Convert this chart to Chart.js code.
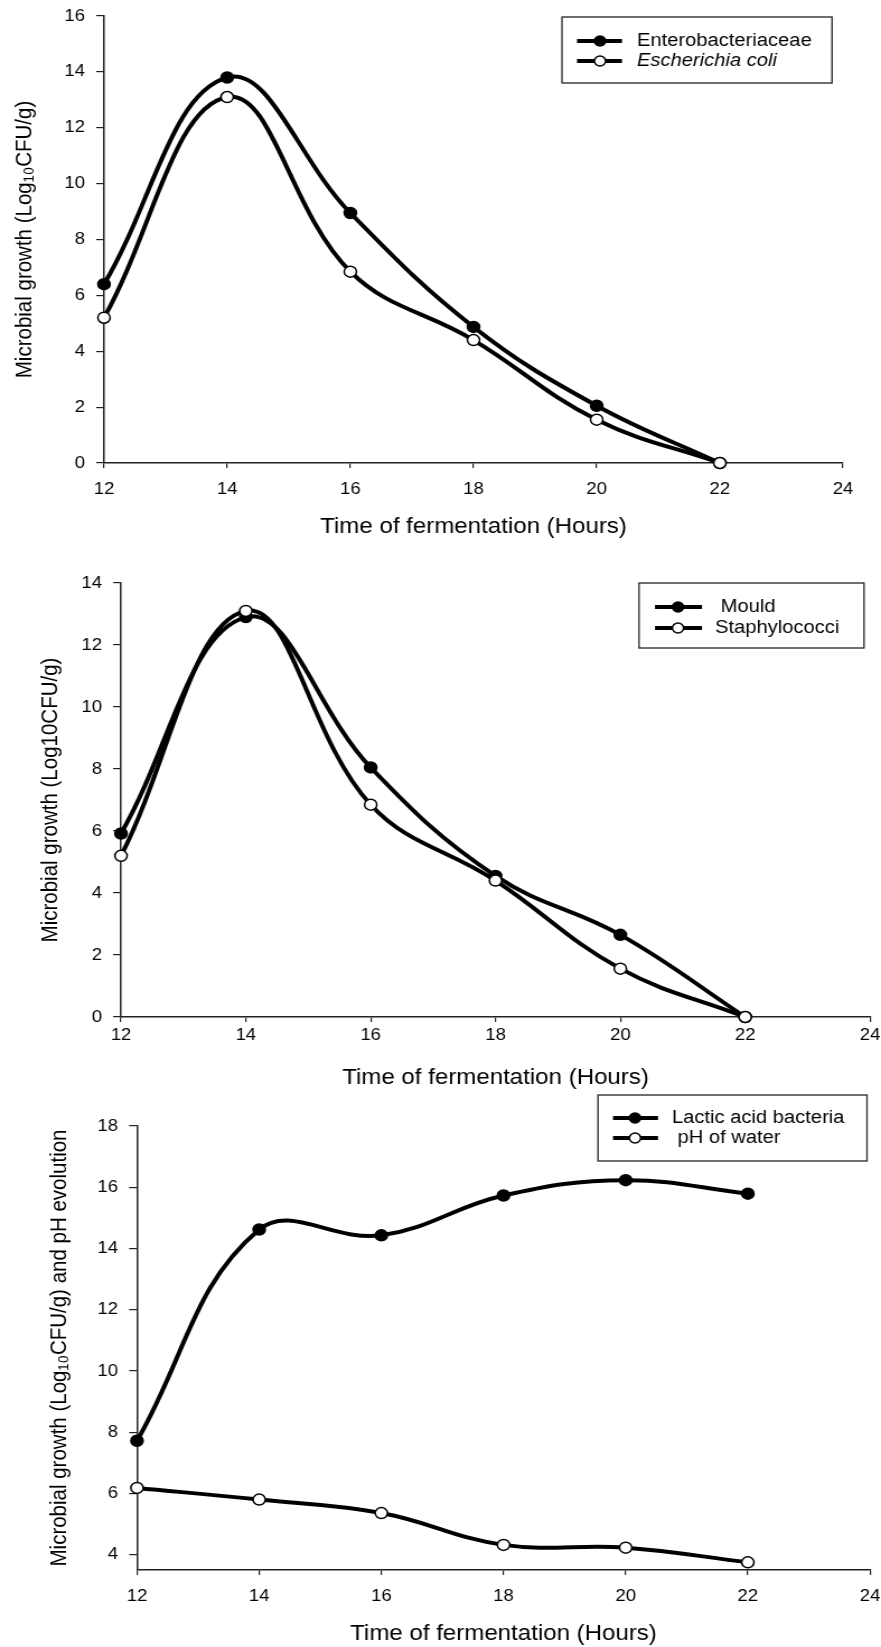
<!DOCTYPE html>
<html>
<head>
<meta charset="utf-8">
<script src="https://cdn.jsdelivr.net/npm/chart.js@4.4.1/dist/chart.umd.min.js"></script>
<style>
  body { margin: 0; background: #fff; width: 881px; height: 1647px; position: relative; overflow: hidden; }
  canvas { position: absolute; left: 0; }
</style>
</head>
<body>
<canvas id="c1"></canvas>
<canvas id="c2"></canvas>
<canvas id="c3"></canvas>
<script>
// data
const hours = [12, 14, 16, 18, 20, 22];
const enterobacteriaceae = [6.4, 13.8, 8.95, 4.87, 2.05, 0];
const eColi = [5.2, 13.1, 6.85, 4.4, 1.55, 0];
const mould = [5.92, 12.9, 8.05, 4.55, 2.65, 0];
const staphylococci = [5.2, 13.1, 6.85, 4.4, 1.56, 0];
const lacticAcidBacteria = [7.72, 14.62, 14.43, 15.73, 16.23, 15.79];
const phOfWater = [6.18, 5.8, 5.36, 4.32, 4.23, 3.75];

const hourTicks = [12, 14, 16, 18, 20, 22, 24];
const growthTicks1 = [0, 2, 4, 6, 8, 10, 12, 14, 16];
const growthTicks2 = [0, 2, 4, 6, 8, 10, 12, 14];
const growthTicks3 = [4, 6, 8, 10, 12, 14, 16, 18];

const FONT = '"Liberation Sans", Arial, sans-serif';
const PAGE_W = 881;
const INNER_W = 787;          // canvas is drawn narrower and stretched, like the original figure
const SX = PAGE_W / INNER_W;

function legendPlugin(lg, canvasTop) {
  return {
    id: 'boxLegend',
    afterDraw(chart) {
      const ctx = chart.ctx;
      ctx.save();
      ctx.strokeStyle = '#222';
      ctx.lineWidth = 1.3;
      ctx.strokeRect(lg.box[0] / SX, lg.box[1] - canvasTop, (lg.box[2] - lg.box[0]) / SX, lg.box[3] - lg.box[1]);
      chart.data.datasets.forEach((ds, i) => {
        const y = lg.rows[i] - canvasTop;
        ctx.strokeStyle = '#000';
        ctx.lineWidth = 4;
        ctx.beginPath();
        ctx.moveTo(lg.line[0] / SX, y);
        ctx.lineTo(lg.line[1] / SX, y);
        ctx.stroke();
        ctx.beginPath();
        ctx.arc(lg.dot / SX, y, 5, 0, Math.PI * 2);
        ctx.fillStyle = ds.pointBackgroundColor;
        ctx.fill();
        ctx.lineWidth = 1.5;
        ctx.stroke();
        ctx.fillStyle = '#000';
        ctx.font = (lg.italic && lg.italic[i] ? 'italic ' : '') + '18px ' + FONT;
        ctx.textBaseline = 'middle';
        ctx.textAlign = 'left';
        ctx.fillText(ds.label, lg.text / SX, y);
      });
      ctx.restore();
    }
  };
}

function makeChart(cfg) {
  const cv = document.getElementById(cfg.id);
  cv.width = INNER_W;
  cv.height = cfg.height;
  cv.style.width = PAGE_W + 'px';
  cv.style.height = cfg.height + 'px';
  cv.style.top = cfg.top + 'px';
  const a = cfg.area;
  const axisColor = '#222';
  const yTitleSize = 20.5;

  return new Chart(cv, {
    type: 'line',
    data: {
      datasets: cfg.series.map(s => ({
        label: s.label,
        data: hours.map((h, i) => ({ x: h, y: s.values[i] })),
        order: s.filled ? 1 : 0,
        borderColor: '#000',
        borderWidth: 4,
        tension: 0.4,
        pointRadius: 5.5,
        pointBorderWidth: 1.5,
        pointBorderColor: '#000',
        pointBackgroundColor: s.filled ? '#000' : '#fff',
        fill: false,
        clip: false
      }))
    },
    options: {
      responsive: false,
      animation: false,
      devicePixelRatio: 1,
      layout: { padding: { top: a.top - cfg.top, right: (PAGE_W - a.right) / SX, left: 0, bottom: 0 } },
      plugins: { legend: { display: false }, tooltip: { enabled: false } },
      scales: {
        x: {
          type: 'linear', min: 12, max: 24,
          afterBuildTicks: s => { s.ticks = hourTicks.map(v => ({ value: v })); },
          afterFit: s => {
            s.height = cfg.top + cfg.height - a.bottom;
            s.paddingLeft = 0;
            s.paddingRight = 0;
          },
          grid: { drawOnChartArea: false, tickLength: 5, color: axisColor, lineWidth: 1.2 },
          border: { color: axisColor, width: 1.5 },
          ticks: { color: '#000', padding: cfg.xTickPad, maxRotation: 0, autoSkip: false, font: { family: FONT, size: 16.5 } },
          title: {
            display: true, text: 'Time of fermentation (Hours)', color: '#000',
            font: { family: FONT, size: 21.5 }, padding: { top: 0, bottom: cfg.xTitlePad }
          }
        },
        y: {
          type: 'linear', min: cfg.yMin, max: cfg.yMax,
          afterBuildTicks: s => { s.ticks = cfg.yTicks.map(v => ({ value: v })); },
          afterFit: s => {
            s.width = a.left / SX;
            s.paddingTop = 0;
            s.paddingBottom = 0;
          },
          grid: { drawOnChartArea: false, tickLength: 7, color: axisColor, lineWidth: 1.2 },
          border: { color: axisColor, width: 1.5 },
          ticks: { color: '#000', padding: 10, font: { family: FONT, size: 16.5 } },
          title: {
            display: true, text: cfg.yTitle, color: '#000',
            font: { family: FONT, size: yTitleSize },
            padding: { top: cfg.yTitleX / SX - yTitleSize * 0.6, bottom: 0 }
          }
        }
      }
    },
    plugins: [legendPlugin(cfg.legend, cfg.top)]
  });
}

makeChart({
  id: 'c1', top: 0, height: 548,
  area: { left: 104, top: 16, right: 843, bottom: 463 },
  yMin: 0, yMax: 16, yTicks: growthTicks1,
  yTitle: 'Microbial growth (Log₁₀CFU/g)', yTitleX: 25, xTitlePad: 8, xTickPad: 12,
  series: [
    { label: 'Enterobacteriaceae', values: enterobacteriaceae, filled: true },
    { label: 'Escherichia coli', values: eColi, filled: false }
  ],
  legend: { box: [562, 17, 832, 83], rows: [41, 61], line: [577, 622], dot: 600, text: 637, italic: [false, true] }
});

makeChart({
  id: 'c2', top: 548, height: 548,
  area: { left: 121, top: 583, right: 870, bottom: 1017 },
  yMin: 0, yMax: 14, yTicks: growthTicks2,
  yTitle: 'Microbial growth (Log10CFU/g)', yTitleX: 51, xTitlePad: 5, xTickPad: 4,
  series: [
    { label: ' Mould', values: mould, filled: true },
    { label: 'Staphylococci', values: staphylococci, filled: false }
  ],
  legend: { box: [639, 583, 864, 648], rows: [607, 628], line: [655, 702], dot: 678, text: 715 }
});

makeChart({
  id: 'c3', top: 1090, height: 557,
  area: { left: 137, top: 1126, right: 870, bottom: 1570 },
  yMin: 3.5, yMax: 18, yTicks: growthTicks3,
  yTitle: 'Microbial growth (Log₁₀CFU/g) and pH evolution', yTitleX: 60, xTitlePad: 0, xTickPad: 12,
  series: [
    { label: 'Lactic acid bacteria', values: lacticAcidBacteria, filled: true },
    { label: ' pH of water', values: phOfWater, filled: false }
  ],
  legend: { box: [598, 1095, 867, 1161], rows: [1118, 1138], line: [613, 658], dot: 635, text: 672 }
});
</script>
</body>
</html>
